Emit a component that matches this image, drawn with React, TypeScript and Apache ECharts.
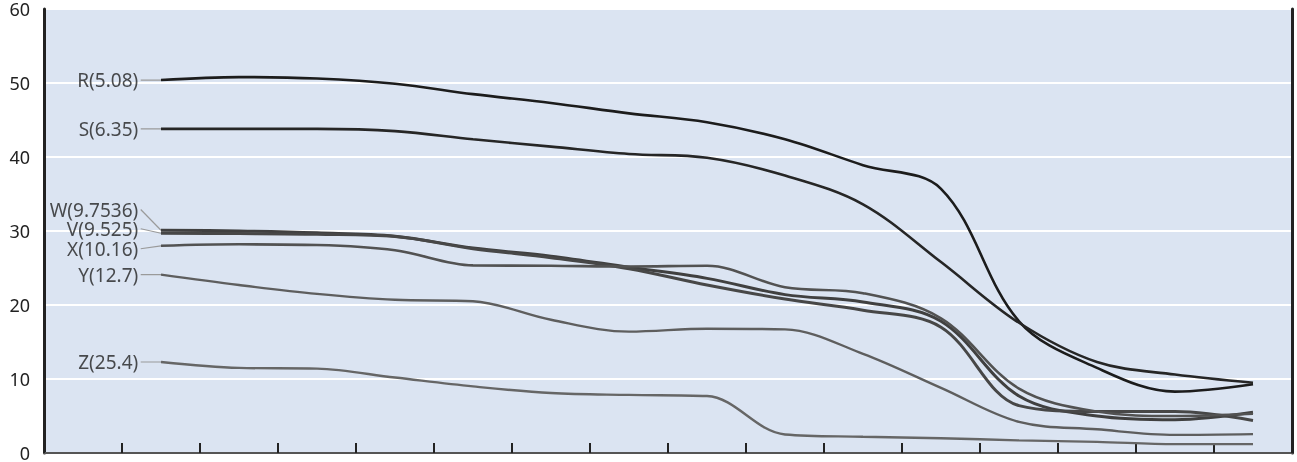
import React, { useEffect, useRef } from 'react';
import * as echarts from 'echarts';

const xPositions = [1.5, 2.5, 3.5, 4.5, 5.5, 6.5, 7.5, 8.5, 9.5, 10.5, 11.5, 12.5, 13.5, 14.5, 15.5];

const seriesNames = ['R', 'S', 'W', 'V', 'X', 'Y', 'Z'];
const seriesLabels = ['R(5.08)', 'S(6.35)', 'W(9.7536)', 'V(9.525)', 'X(10.16)', 'Y(12.7)', 'Z(25.4)'];

const rValues = [50.4, 50.8, 50.6, 49.9, 48.5, 47.3, 45.9, 44.7, 42.4, 38.9, 35.7, 17.8, 11.5, 8.3, 9.3];
const sValues = [43.8, 43.8, 43.8, 43.5, 42.4, 41.4, 40.4, 39.9, 37.5, 33.6, 25.8, 17.6, 12.3, 10.6, 9.5];
const wValues = [30.1, 30.0, 29.75, 29.3, 27.7, 26.6, 25.1, 23.6, 21.4, 20.4, 17.8, 7.7, 5.0, 4.5, 5.5];
const vValues = [29.7, 29.65, 29.55, 29.25, 27.6, 26.4, 24.9, 22.7, 20.8, 19.3, 17.0, 6.4, 5.6, 5.6, 4.4];
const xValues = [28.0, 28.2, 28.1, 27.4, 25.35, 25.3, 25.2, 25.3, 22.4, 21.6, 18.2, 8.7, 5.6, 5.0, 5.3];
const yValues = [24.1, 22.7, 21.5, 20.7, 20.5, 18.0, 16.4, 16.8, 16.7, 13.4, 8.8, 4.2, 3.2, 2.45, 2.55];
const zValues = [12.3, 11.5, 11.4, 10.2, 9.0, 8.1, 7.85, 7.7, 2.5, 2.2, 2.0, 1.7, 1.5, 1.2, 1.2];

const allValues = [rValues, sValues, wValues, vValues, xValues, yValues, zValues];

const labelAnchorX = 1.24;
const labelAnchorY = [50.4, 43.8, 32.9, 30.3, 27.6, 24.1, 12.3];

const yTicks = [0, 10, 20, 30, 40, 50, 60];

const lineColors = ['#1c1c1c', '#262626', '#404040', '#474747', '#525252', '#5e5e5e', '#666666'];
const lineWidths = [2.6, 2.6, 3, 3, 2.6, 2.4, 2.4];

export default function App() {
  const ref = useRef<HTMLDivElement>(null);
  useEffect(() => {
    document.body.style.margin = '0';
    const chart = echarts.init(ref.current!, null, { renderer: 'svg', width: 1297, height: 462 });
    const lines = seriesNames.map((n, i) => ({
      type: 'line',
      name: n,
      data: xPositions.map((x, j) => [x, allValues[i][j]]),
      smooth: 0.35,
      symbol: 'none',
      showSymbol: false,
      lineStyle: { color: lineColors[i], width: lineWidths[i] },
      z: 3,
      silent: true,
    }));
    const leaders = seriesNames.map((n, i) => ({
      type: 'line',
      name: n + '-leader',
      data: [
        [labelAnchorX, labelAnchorY[i]],
        [xPositions[0], allValues[i][0]],
      ],
      symbol: 'none',
      showSymbol: false,
      lineStyle: { color: '#9a9a9a', width: 1.2 },
      z: 2,
      silent: true,
    }));
    const labelSeries = {
      type: 'scatter',
      name: 'labels',
      symbolSize: 1,
      itemStyle: { color: 'rgba(0,0,0,0)' },
      silent: true,
      z: 4,
      data: seriesLabels.map((t, i) => ({
        value: [labelAnchorX, labelAnchorY[i]],
        label: { formatter: t },
      })),
      label: {
        show: true,
        position: 'left',
        distance: 2,
        fontSize: 19,
        lineHeight: 19,
        color: '#222',
        fontFamily: 'Noto Sans',
      },
    };
    chart.setOption({
      animation: false,
      grid: {
        left: 44,
        right: 5,
        top: 6,
        height: 456,
        show: true,
        backgroundColor: '#dbe4f2',
        borderWidth: 0,
      },
      xAxis: {
        type: 'value',
        min: 0,
        max: 16,
        interval: 1,
        axisLine: { show: true, lineStyle: { color: '#555', width: 2 } },
        axisTick: { show: true, inside: true, length: 10, lineStyle: { color: '#222', width: 2 } },
        axisLabel: { show: false },
        splitLine: { show: false },
      },
      yAxis: [
        {
          type: 'value',
          min: yTicks[0],
          max: yTicks[yTicks.length - 1],
          interval: 10,
          axisLine: { show: true, lineStyle: { color: '#222', width: 3 } },
          axisTick: { show: false },
          axisLabel: { fontSize: 18, color: '#222', margin: 14, fontFamily: 'Noto Sans' },
          splitLine: { show: true, lineStyle: { color: '#ffffff', width: 2 } },
        },
        {
          type: 'value',
          position: 'right',
          min: 0,
          max: 60,
          interval: 10,
          axisLine: { show: true, lineStyle: { color: '#222', width: 3 } },
          axisTick: { show: false },
          axisLabel: { show: false },
          splitLine: { show: false },
        },
      ],
      series: [...leaders, ...lines, labelSeries],
    });
    return () => chart.dispose();
  }, []);
  return (
    <div
      ref={ref}
      style={{ position: 'fixed', left: 0, top: 0, width: 1297, height: 462, overflow: 'hidden' }}
    />
  );
}
